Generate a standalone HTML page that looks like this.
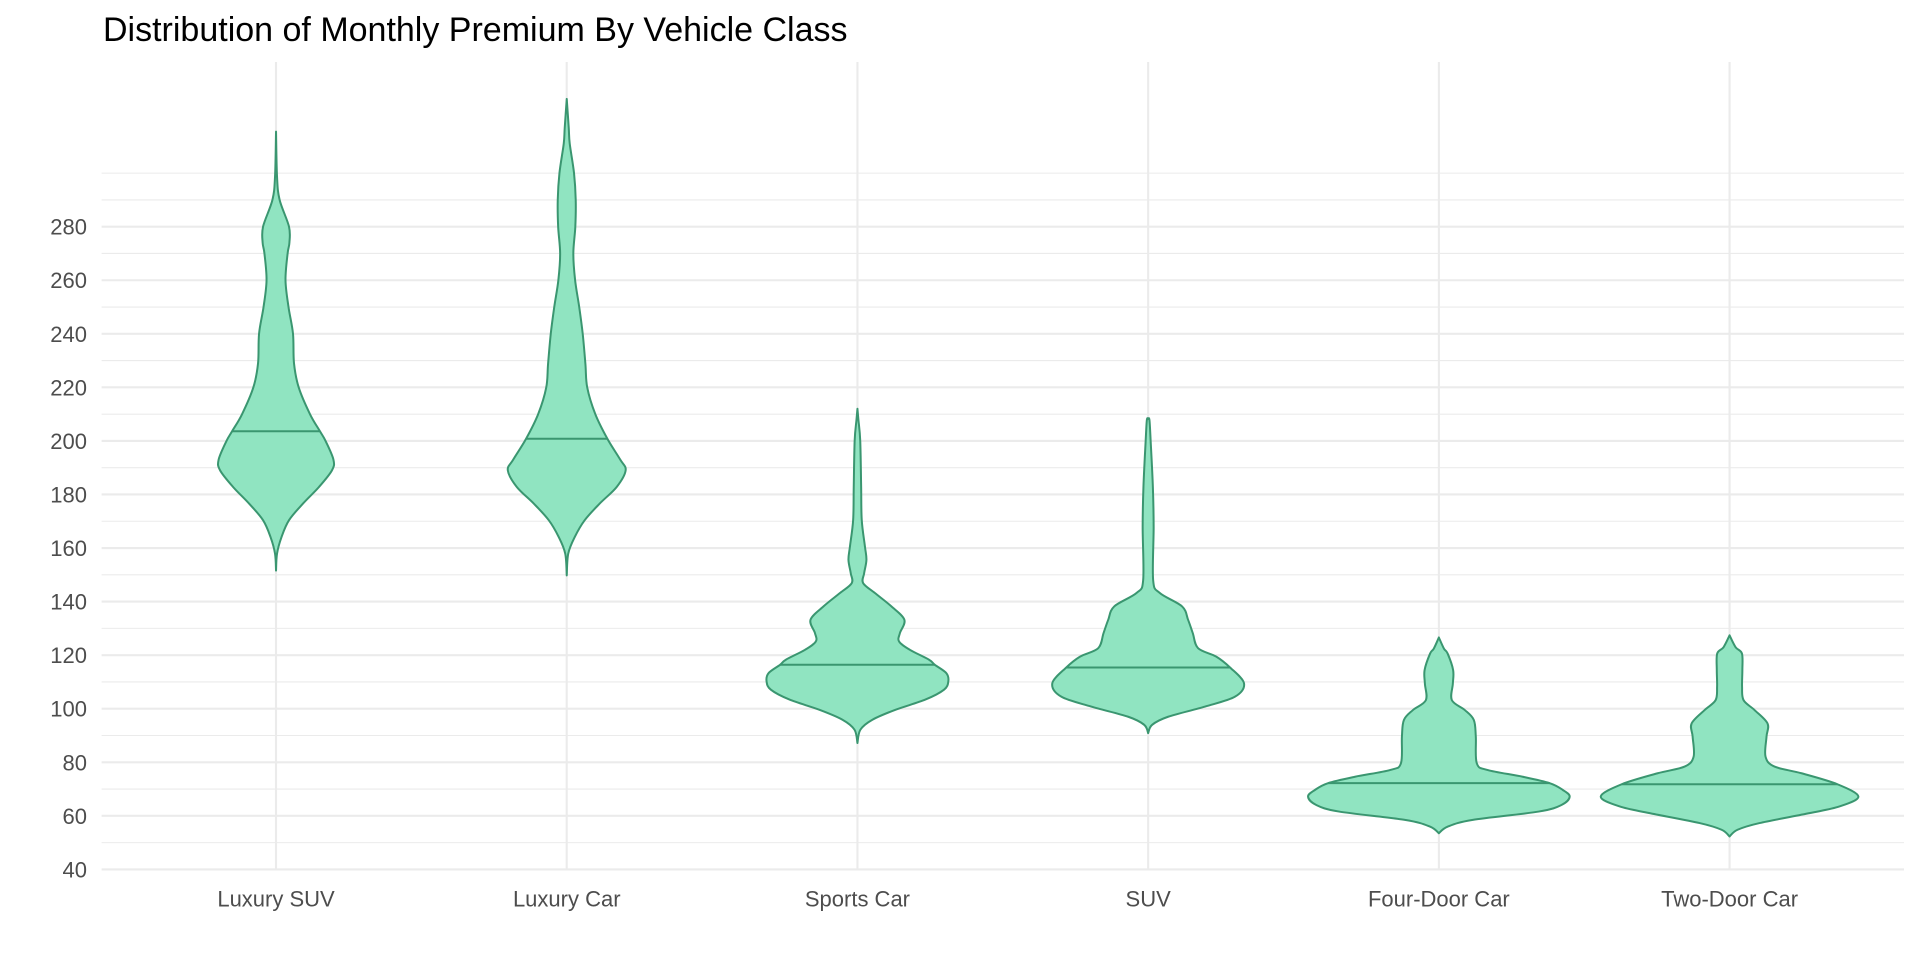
<!DOCTYPE html>
<html><head><meta charset="utf-8">
<style>
html,body{margin:0;padding:0;background:#fff;}
svg{display:block;font-family:"Liberation Sans",Arial,sans-serif;}
</style></head>
<body>
<svg id="chart" width="1920" height="960" viewBox="0 0 1920 960" xmlns="http://www.w3.org/2000/svg">
  <rect width="1920" height="960" fill="#fff"/>
  <text x="103" y="41" font-size="34" fill="#000">Distribution of Monthly Premium By Vehicle Class</text>
  <g id="grid"></g>
  <g id="violins"></g>
  <g id="axes"></g>
</svg>
<script>
const categories = ["Luxury SUV","Luxury Car","Sports Car","SUV","Four-Door Car","Two-Door Car"];
const yTicks = [40,60,80,100,120,140,160,180,200,220,240,260,280];
const yMinor = [50,70,90,110,130,150,170,190,210,230,250,270,290,300];
const medians = [203.6,200.8,116.4,115.4,72.2,71.8];
// density profiles: values (top to bottom) and matching density (relative width)
const luxSuvVals = [315.5,298.7,290,280,274,270,260,250,240,229,220,210,203.6,200,193,189,182.8,176.6,170.4,164.1,157.9,151.6];
const luxSuvDens = [0,1,3.6,13,13.4,11.6,9.5,12.5,17,18,22.7,34,44,49.6,57.5,56,43,27,13,5.5,1,0];
const luxCarVals = [327.7,317,311,300,290,280,270,260,250,240,228.75,220,210,200.8,193,189,182.8,176.6,170.4,164.1,157.9,149.8];
const luxCarDens = [0,2,3,7.3,9,8.6,6.6,8.4,12.5,16,18.7,20.5,28.6,40.7,53.6,59,50,33,18,8,1.5,0];
const sportsVals = [212,207.8,200,183,170.5,160.6,155.6,150.6,146.9,143.2,138.2,133.2,128.2,125.1,122,118.3,116.4,113.3,110.2,107.1,103.4,99.6,95.9,92.2,87.2];
const sportsDens = [0,1,2.8,3.7,4.3,7.5,9,6.7,5.7,17.5,34,47,42.5,41.7,52.5,71.7,77.5,89,91,86.7,68,38,15,3,0];
const suvVals = [208.2,207.8,200,183,168,148,143.2,138.2,133.2,128.2,122.6,119.5,115.4,109.5,104.5,100.8,97,94,90.9];
const suvDens = [0,1.3,2.5,4.7,5.5,5,11.7,34,40,44.7,50,68,82,96,87,57,20,4,0];
const fourDoorVals = [126.6,122.5,120.6,114.4,109.4,103.2,99.5,95.8,89.6,79.6,77.1,74.6,72.2,69.7,67.2,64.1,61.6,58.5,56,53.5];
const fourDoorDens = [0,5,8.8,14.3,14,13,26,35,37,38,49,84,111,124,131,123,100,34,9,0];
const twoDoorVals = [127.4,123,120.6,114.4,108.2,103.2,99.5,94.5,89.6,82.1,78.4,75.9,71.8,67.2,63.5,61,57.3,54.8,52.3];
const twoDoorDens = [0,6,12.4,12.8,12.5,14,25,38,37,36,45,72,108,129,110,80,30,8,0];

const profiles = [[luxSuvVals,luxSuvDens],[luxCarVals,luxCarDens],[sportsVals,sportsDens],[suvVals,suvDens],[fourDoorVals,fourDoorDens],[twoDoorVals,twoDoorDens]];

const NS = "http://www.w3.org/2000/svg";
const panelL = 101.6, panelR = 1904, panelT = 62, panelB = 869.4;
const band = (panelR - panelL) / (categories.length + 0.2);
function xPos(i){ return panelL + (i + 0.6) * band; }
function yPos(v){ return panelB - (v - 40) * 2.678; }
function wScale(d){ return d / 131 * band * 0.45; }
function mk(tag, attrs, parent){ const e=document.createElementNS(NS,tag); for(const k in attrs) e.setAttribute(k,attrs[k]); parent.appendChild(e); return e; }

const grid = document.getElementById('grid');
yMinor.forEach(v=>{
  const l = mk('line',{x1:panelL,x2:panelR,y1:yPos(v),y2:yPos(v),stroke:'#EBEBEB','stroke-width':1.1},grid);
  
  
});
yTicks.forEach(v=>{
  const l = mk('line',{x1:panelL,x2:panelR,y1:yPos(v),y2:yPos(v),stroke:'#EBEBEB','stroke-width':2.1},grid);
  
  
});
categories.forEach((c,i)=>{
  const l = mk('line',{x1:xPos(i),x2:xPos(i),y1:panelT,y2:panelB,stroke:'#EBEBEB','stroke-width':2.1},grid);
  
  
});

function smoothPath(pts){
  let d = `M${pts[0][0]},${pts[0][1]}`;
  for(let i=0;i<pts.length-1;i++){
    const p0=pts[Math.max(i-1,0)],p1=pts[i],p2=pts[i+1],p3=pts[Math.min(i+2,pts.length-1)];
    const c1=[p1[0]+(p2[0]-p0[0])/6,p1[1]+(p2[1]-p0[1])/6];
    const c2=[p2[0]-(p3[0]-p1[0])/6,p2[1]-(p3[1]-p1[1])/6];
    d+=`C${c1[0].toFixed(2)},${c1[1].toFixed(2)} ${c2[0].toFixed(2)},${c2[1].toFixed(2)} ${p2[0].toFixed(2)},${p2[1].toFixed(2)}`;
  }
  return d;
}
function interpDens(vals,dens,v){
  for(let i=0;i<vals.length-1;i++){
    if(v<=vals[i] && v>=vals[i+1]){ const t=(vals[i]-v)/(vals[i]-vals[i+1]); return dens[i]+(dens[i+1]-dens[i])*t; }
  }
  return 0;
}

const vg = document.getElementById('violins');
profiles.forEach(([vals,dens],i)=>{
  const cx = xPos(i);
  const right = vals.map((v,k)=>[cx+wScale(dens[k]), yPos(v)]);
  const left = vals.map((v,k)=>[cx-wScale(dens[k]), yPos(v)]).reverse();
  const d = smoothPath(right) + smoothPath(left).replace(/^M/,'L') + 'Z';
  const p = mk('path',{d:d,fill:'#90E4C1',stroke:'#3A9670','stroke-width':2,'stroke-linejoin':'round'},vg);
  
  
  const hw = wScale(interpDens(vals,dens,medians[i]));
  const m = mk('line',{x1:cx-hw,x2:cx+hw,y1:yPos(medians[i]),y2:yPos(medians[i]),stroke:'#3A9670','stroke-width':2},vg);
  
  
});

const ax = document.getElementById('axes');
yTicks.forEach(v=>{
  const t = mk('text',{x:87,y:yPos(v)+8,'text-anchor':'end','font-size':22,fill:'#4D4D4D'},ax);
  t.textContent = v;
  
  
});
categories.forEach((c,i)=>{
  const t = mk('text',{x:xPos(i),y:906.5,'text-anchor':'middle','font-size':22,fill:'#4D4D4D'},ax);
  t.textContent = c;
  
  
});
</script>
</body></html>
